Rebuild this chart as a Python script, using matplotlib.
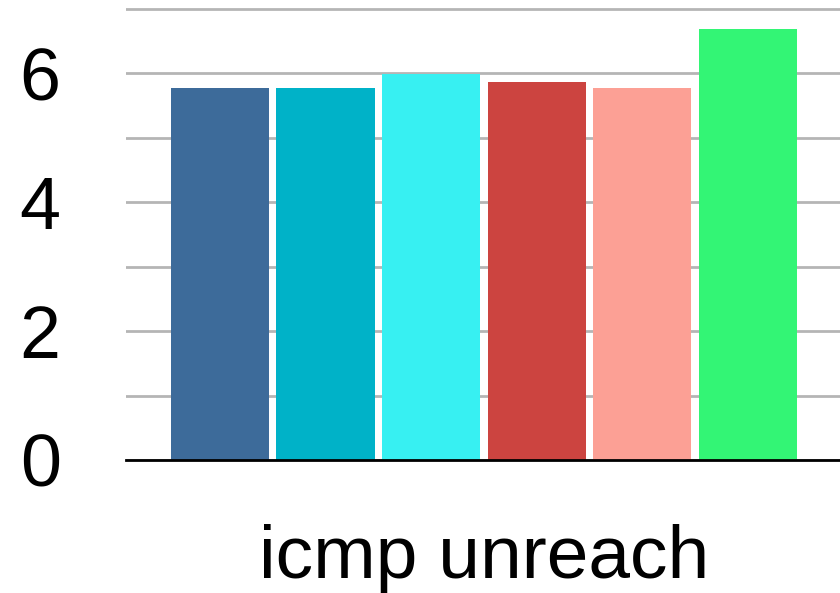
import matplotlib.pyplot as plt
import numpy as np

# Values per series for the single category
category = "icmp unreach"
values = [5.77, 5.77, 5.98, 5.87, 5.77, 6.68]
colors = ["#3d6b9a", "#00b2c8", "#37f0f2", "#cc4440", "#fca095", "#33f575"]
yticks = [0, 2, 4, 6]

plt.rcParams['font.family'] = ['Liberation Sans', 'DejaVu Sans']

fig = plt.figure(figsize=(8.4, 5.93), dpi=100)
ax = fig.add_axes([0.15, 0.2243, 0.852, 0.767])

x = np.arange(len(values))
ax.bar(x, values, width=0.93, color=colors, zorder=3)

ax.set_xlim(-0.89, 5.89)
ax.set_ylim(0, 7.054)

# light grid at every unit, labels only on even values
ax.set_yticks(range(0, 8), minor=False)
ax.yaxis.grid(True, color="#b5b5b5", linewidth=2, zorder=0)
ax.set_yticklabels([str(v) if v in yticks else "" for v in range(0, 8)])
ax.tick_params(axis='y', length=0, pad=47, labelsize=53)
ax.tick_params(axis='x', length=0, labelbottom=False)

for side in ["top", "right", "left"]:
    ax.spines[side].set_visible(False)
ax.spines["bottom"].set_linewidth(2)
ax.spines["bottom"].set_zorder(4)

ax.set_xlabel(category, fontsize=54, labelpad=46)

fig.savefig("out.png", dpi=100)
